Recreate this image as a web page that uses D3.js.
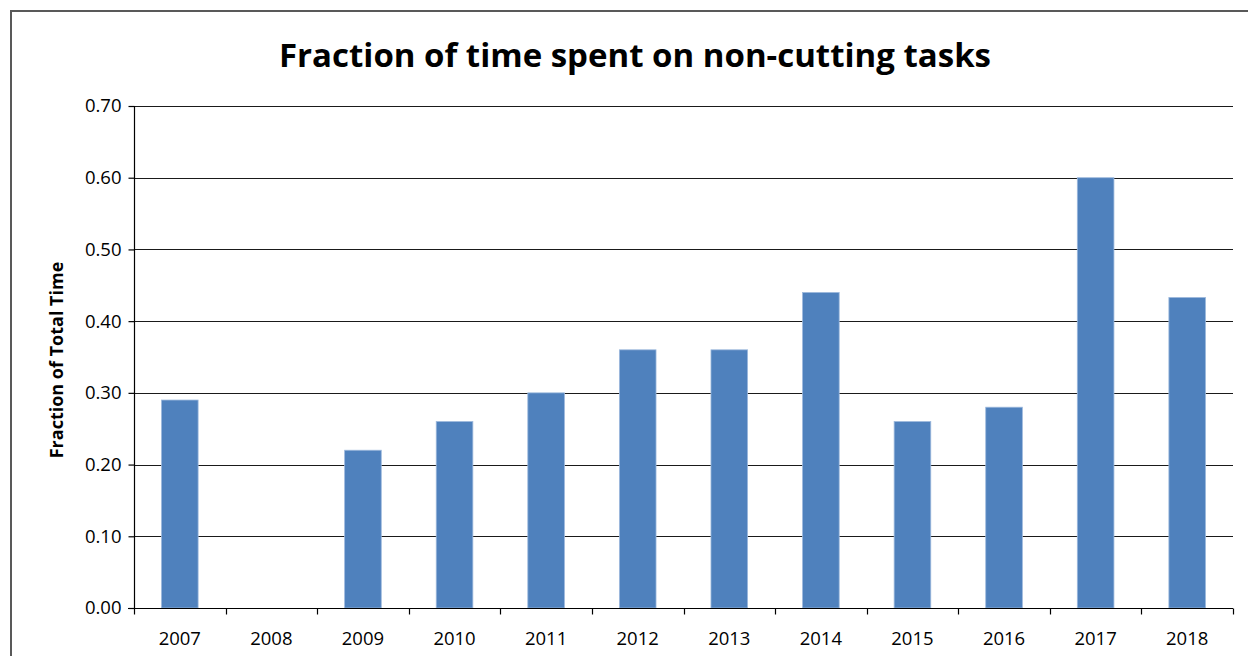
<!DOCTYPE html>
<html>
<head>
<meta charset="utf-8">
<script src="https://cdn.jsdelivr.net/npm/d3@7"></script>
<style>
  html, body { margin: 0; padding: 0; background: #fff; }
  svg { display: block; }
</style>
</head>
<body>
<svg id="chart" width="1248" height="656"></svg>
<script>
// Survey years and the fraction of time spent on non-cutting tasks
const years = ["2007", "2008", "2009", "2010", "2011", "2012", "2013", "2014", "2015", "2016", "2017", "2018"];
const fractions = [0.29, null, 0.22, 0.26, 0.30, 0.36, 0.36, 0.44, 0.26, 0.28, 0.60, 0.433];
const yTicks = [0, 0.1, 0.2, 0.3, 0.4, 0.5, 0.6, 0.7];

const titleText = "Fraction of time spent on non-cutting tasks";
const yTitle = "Fraction of Total Time";

const font = "'Open Sans', 'Liberation Sans', sans-serif";
const svg = d3.select("#chart");

const m = { left: 134, right: 1233, top: 106, bottom: 608 };

// Chart frame
svg.append("rect")
  .attr("x", 11).attr("y", 11)
  .attr("width", 1260).attr("height", 680)
  .attr("fill", "none").attr("stroke", "#595959").attr("stroke-width", 2);

const xb = d3.scaleBand().domain(years).range([m.left, m.right]);
const y = d3.scaleLinear().domain([0, 0.7]).range([m.bottom, m.top]);

// Horizontal gridlines
svg.append("g").selectAll("line").data(yTicks.filter(d => d > 0)).join("line")
  .attr("x1", m.left).attr("x2", m.right)
  .attr("y1", d => Math.round(y(d)) + 0.5).attr("y2", d => Math.round(y(d)) + 0.5)
  .attr("stroke", "#1a1a1a").attr("stroke-width", 1.2);

// Bars (gap width 150% of bar width)
const barW = xb.bandwidth() / 2.5;
svg.append("g").selectAll("rect")
  .data(years.map((yr, i) => ({ yr, v: fractions[i] })).filter(d => d.v != null))
  .join("rect")
  .attr("x", d => xb(d.yr) + (xb.bandwidth() - barW) / 2)
  .attr("width", barW)
  .attr("y", d => y(d.v))
  .attr("height", d => y(0) - y(d.v))
  .attr("fill", "#4F81BD")
  .attr("stroke", "#9DB9DD").attr("stroke-width", 0.8);

// Y axis
const yAxis = svg.append("g")
  .attr("transform", `translate(${m.left + 0.5},0)`)
  .call(d3.axisLeft(y).tickValues(yTicks).tickFormat(d3.format(".2f")).tickSize(6).tickPadding(7));
yAxis.select(".domain").attr("stroke", "#000").attr("stroke-width", 1.2).attr("d", `M0,${m.top}V${m.bottom}`);
yAxis.selectAll(".tick line").attr("stroke", "#000").attr("stroke-width", 1.2);
yAxis.selectAll("text").attr("font-family", font).attr("font-size", 18.5).attr("fill", "#000");

// X axis with boundary ticks between categories
const xg = svg.append("g").attr("transform", `translate(0,${m.bottom + 0.5})`);
xg.append("line").attr("x1", m.left - 6).attr("x2", m.right)
  .attr("stroke", "#000").attr("stroke-width", 1.2);
const bounds = years.map(d => xb(d)).concat([m.right]);
xg.selectAll("line.tk").data(bounds).join("line").attr("class", "tk")
  .attr("x1", d => Math.round(d) + 0.5).attr("x2", d => Math.round(d) + 0.5)
  .attr("y1", 0).attr("y2", 6)
  .attr("stroke", "#000").attr("stroke-width", 1.2);
xg.selectAll("text").data(years).join("text")
  .attr("x", d => xb(d) + xb.bandwidth() / 2)
  .attr("y", 36)
  .attr("text-anchor", "middle")
  .attr("font-family", font).attr("font-size", 18.5).attr("fill", "#000")
  .text(d => d);

// Title
svg.append("text")
  .attr("x", 635).attr("y", 67)
  .attr("text-anchor", "middle")
  .attr("font-family", font).attr("font-weight", "bold").attr("font-size", 33)
  .attr("fill", "#000")
  .text(titleText);

// Y axis title
svg.append("text")
  .attr("transform", `translate(63,${(m.top + m.bottom) / 2 + 3}) rotate(-90)`)
  .attr("text-anchor", "middle")
  .attr("font-family", font).attr("font-weight", "bold").attr("font-size", 18)
  .attr("fill", "#000")
  .text(yTitle);
</script>
</body>
</html>
